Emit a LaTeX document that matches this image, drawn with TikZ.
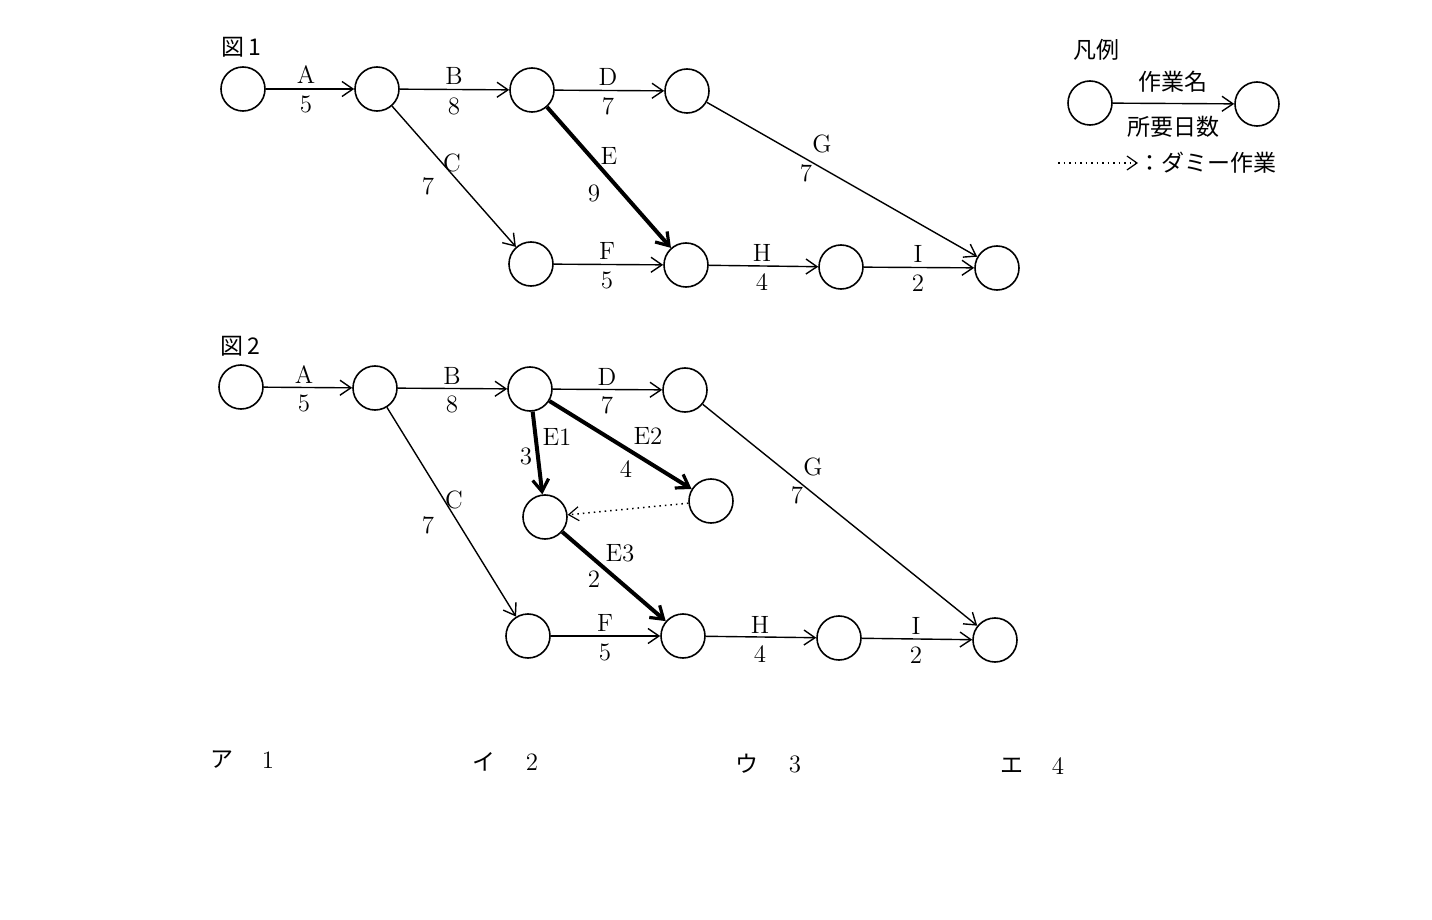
\documentclass[tikz,border=0pt]{standalone}
\usepackage{fontspec}
\newfontfamily\jp{Noto Sans CJK JP}
\usetikzlibrary{arrows.meta}
\begin{document}
\begin{tikzpicture}[x=0.5pt,y=-0.5pt,
  ev/.style={circle,draw,line width=0.8pt,minimum size=22pt,inner sep=0pt},
  act/.style={line width=0.7pt,-{Straight Barb[length=5.5pt,width=7.5pt,line width=0.7pt]}},
  crit/.style={line width=2pt,-{Straight Barb[length=6pt,width=8pt,line width=1.6pt]}},
  dum/.style={line width=0.75pt,dotted,-{Straight Barb[length=5pt,width=7pt,line width=0.6pt]}},
  lb/.style={font=\fontsize{12.5}{14}\selectfont,inner sep=0pt},
  jl/.style={font=\jp\fontsize{11.5}{13}\selectfont,inner sep=0pt}]
\useasboundingbox (0,0) rectangle (1432,920);
% Figure 1
\node[jl] (t1) at (241,47) {図\,1};
\node[ev] (a1) at (243,89) {};
\node[ev] (a2) at (377,89) {};
\node[ev] (a3) at (532,90) {};
\node[ev] (a4) at (687,91) {};
\node[ev] (a5) at (531,264) {};
\node[ev] (a6) at (686,265) {};
\node[ev] (a7) at (841,267) {};
\node[ev] (a8) at (997,268) {};
\draw[act] (a1) -- (a2);
\draw[act] (a2) -- (a3);
\draw[act] (a3) -- (a4);
\draw[act] (a2) -- (a5);
\draw[crit] (a3) -- (a6);
\draw[act] (a4) -- (a8);
\draw[act] (a5) -- (a6);
\draw[act] (a6) -- (a7);
\draw[act] (a7) -- (a8);
\node[lb] (la1) at (306,75) {A}; \node[lb] (lb1) at (306,104) {5};
\node[lb] (la2) at (454,76) {B}; \node[lb] (lb2) at (454,106) {8};
\node[lb] (la3) at (608,77) {D}; \node[lb] (lb3) at (608,106) {7};
\node[lb] (la4) at (452,163) {C}; \node[lb] (lb4) at (428,186) {7};
\node[lb] (la5) at (609,156) {E}; \node[lb] (lb5) at (594,193) {9};
\node[lb] (la6) at (822,144) {G}; \node[lb] (lb6) at (806,173) {7};
\node[lb] (la7) at (607,251) {F}; \node[lb] (lb7) at (607,280) {5};
\node[lb] (la8) at (762,253) {H}; \node[lb] (lb8) at (762,282) {4};
\node[lb] (la9) at (918,254) {I}; \node[lb] (lb9) at (918,283) {2};
% Figure 2
\node[jl] (t2) at (240,346) {図\,2};
\node[ev] (b1) at (241,387) {};
\node[ev] (b2) at (375,388) {};
\node[ev] (b3) at (530,389) {};
\node[ev] (b4) at (685,390) {};
\node[ev] (b5) at (711,501) {};
\node[ev] (b6) at (545,517) {};
\node[ev] (b7) at (528,636) {};
\node[ev] (b8) at (683,636) {};
\node[ev] (b9) at (839,638) {};
\node[ev] (b10) at (995,640) {};
\draw[act] (b1) -- (b2);
\draw[act] (b2) -- (b3);
\draw[act] (b3) -- (b4);
\draw[act] (b2) -- (b7);
\draw[crit] (b3) -- (b6);
\draw[crit] (b3) -- (b5);
\draw[dum] (b5) -- (b6);
\draw[crit] (b6) -- (b8);
\draw[act] (b4) -- (b10);
\draw[act] (b7) -- (b8);
\draw[act] (b8) -- (b9);
\draw[act] (b9) -- (b10);
\node[lb] (ma1) at (304,375) {A}; \node[lb] (mb1) at (304,403) {5};
\node[lb] (ma2) at (452,376) {B}; \node[lb] (mb2) at (452,404) {8};
\node[lb] (ma3) at (607,377) {D}; \node[lb] (mb3) at (607,405) {7};
\node[lb] (ma4) at (557,437) {E1}; \node[lb] (mb4) at (526,456) {3};
\node[lb] (ma5) at (648,436) {E2}; \node[lb] (mb5) at (626,469) {4};
\node[lb] (ma6) at (454,500) {C}; \node[lb] (mb6) at (428,525) {7};
\node[lb] (ma7) at (813,467) {G}; \node[lb] (mb7) at (797,495) {7};
\node[lb] (ma8) at (620,553) {E3}; \node[lb] (mb8) at (594,579) {2};
\node[lb] (ma9) at (605,623) {F}; \node[lb] (mb9) at (605,652) {5};
\node[lb] (ma10) at (760,625) {H}; \node[lb] (mb10) at (760,654) {4};
\node[lb] (ma11) at (916,626) {I}; \node[lb] (mb11) at (916,655) {2};
% Legend
\node[jl] (lg) at (1096,50) {凡例};
\node[ev] (l1) at (1090,103) {};
\node[ev] (l2) at (1257,104) {};
\draw[act] (l1) -- (l2);
\node[jl] (lw) at (1173,82) {作業名};
\node[jl] (ld) at (1173,127) {所要日数};
\coordinate (ds) at (1058,163);
\node[jl,anchor=west] (dt) at (1138,163) {：ダミー作業};
\draw[dum] (ds) -- (dt.west);
% Answers
\node[jl] (ka) at (222,760) {ア}; \node[lb] (na) at (268,760) {1};
\node[jl] (ki) at (484,762) {イ}; \node[lb] (ni) at (532,762) {2};
\node[jl] (ku) at (747,764) {ウ}; \node[lb] (nu) at (795,764) {3};
\node[jl] (ke) at (1012,766) {エ}; \node[lb] (ne) at (1058,766) {4};
\end{tikzpicture}
\end{document}
